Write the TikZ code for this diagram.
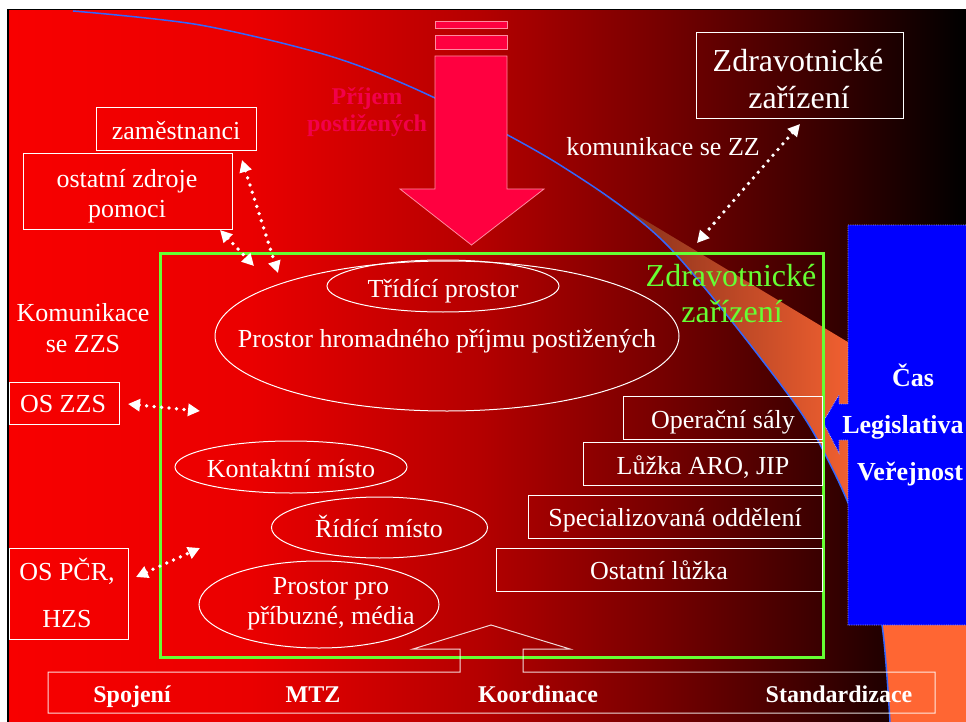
\documentclass[tikz,border=0pt]{standalone}
\usepackage{fontspec}
\setmainfont{Liberation Serif}
\usetikzlibrary{shapes.geometric,arrows.meta}
\definecolor{bgA}{HTML}{F80000}
\definecolor{bgB}{HTML}{EA0000}
\definecolor{bgC}{HTML}{B40000}
\definecolor{bgD}{HTML}{7A0000}
\definecolor{bgE}{HTML}{420000}
\definecolor{bgF}{HTML}{000000}
\definecolor{orgA}{HTML}{7A2A18}
\definecolor{orgB}{HTML}{FF6633}
\definecolor{curveblue}{HTML}{3366FF}
\definecolor{pinkA}{HTML}{FF0040}
\definecolor{pinkL}{HTML}{FF8AA0}
\definecolor{pinkT}{HTML}{F2004A}
\definecolor{zgreen}{HTML}{66FF33}
\definecolor{vblue}{HTML}{0000FF}
\pgfdeclarehorizontalshading{bgshade}{100bp}{color(0bp)=(bgA); color(25bp)=(bgA); color(37.6bp)=(bgB); color(49.6bp)=(bgC); color(58.5bp)=(bgD); color(66.3bp)=(bgE); color(75bp)=(bgF); color(100bp)=(bgF)}
\begin{document}
\begin{tikzpicture}[x=1pt,y=-1pt,
  every node/.style={inner sep=0pt, outer sep=0pt},
  wbox/.style={draw=white, line width=1pt, rectangle},
  well/.style={draw=white, line width=1pt, ellipse},
  tw/.style={text=white, font=\fontsize{26}{30}\selectfont, text height=23pt, text depth=6pt},
  tbig/.style={font=\fontsize{32}{36}\selectfont, text height=28pt, text depth=7pt},
  bb/.style={text=white, font=\bfseries\fontsize{24}{28}\selectfont, text height=21pt, text depth=5pt},
  bl/.style={text=white, font=\bfseries\fontsize{26}{30}\selectfont, text height=23pt, text depth=6pt},
  dotarrow/.style={white, line width=3.8pt, line cap=round, dash pattern=on 0pt off 7.5pt,
    {Triangle[length=12pt,width=12pt]}-{Triangle[length=12pt,width=12pt]}},
]
\useasboundingbox (0,0) rectangle (966,722);
\clip (0,0) rectangle (966,722);
% slide background
\fill[white] (0,0) rectangle (966,722);
\fill[black] (7,9) rectangle (966,722);
\shade[shading=bgshade] (9,11) rectangle (966,722);
% orange wedge
\begin{scope}
  \clip plot[smooth] coordinates {(593,189) (667,245) (790,397) (833,470) (862,540) (882,625) (890,722)}
    -- (966,722) -- (966,413) -- cycle;
  \shade[left color=orgA, right color=orgB] (593,180) rectangle (880,722);
  \fill[orgB] (880,180) rectangle (966,722);
\end{scope}
% blue curve
\draw[curveblue, line width=1.5pt] plot[smooth] coordinates {(73,11) (200,25) (333,57) (435,98) (560,165) (667,245) (790,397) (833,470) (862,540) (882,625) (890,722)};
% pink down arrow
\path[fill=pinkA, draw=pinkL, line width=0.8pt] (435,21) rectangle (507,28);
\path[fill=pinkA, draw=pinkL, line width=0.8pt] (435,35) rectangle (507,49);
\path[fill=pinkA, draw=pinkL, line width=0.8pt] (435,56) -- (507,56) -- (507,189) -- (544,189) -- (471.5,245) -- (400,189) -- (435,189) -- cycle;
\node[text=pinkT, font=\bfseries\fontsize{24}{28}\selectfont, text height=21pt, text depth=5pt] (prijA) at (367,97) {Příjem};
\node[text=pinkT, font=\bfseries\fontsize{24}{28}\selectfont, text height=21pt, text depth=5pt] (prijB) at (367,124) {postižených};
% blue box with arrow
\path[fill=vblue, draw=white!65!vblue, densely dotted, line width=0.8pt] (848,225) -- (972,225) -- (972,625) -- (848,625) -- (848,440) -- (839,440) -- (839,453) -- (823,422) -- (839,395) -- (839,404) -- (848,404) -- cycle;
\node[bl] (cas) at (913,378) {Čas};
\node[bl] (leg) at (903,425) {Legislativa};
\node[bl] (ver) at (910,472) {Veřejnost};
% green frame
\draw[zgreen, line width=3pt] (160,253) rectangle (823,657);
\node[tbig, text=zgreen] (zgA) at (731,276) {Zdravotnické};
\node[tbig, text=zgreen] (zgB) at (732,312) {zařízení};
% top right box
\node[wbox, minimum width=207pt, minimum height=86pt] (zzbox) at (799.5,76) {};
\node[tbig, text=white] (zzA) at (798,61) {Zdravotnické};
\node[tbig, text=white] (zzB) at (799,98) {zařízení};
\node[tw] (komzz) at (663,147) {komunikace se ZZ};
% left boxes
\node[wbox, minimum width=160pt, minimum height=43pt] (zam) at (176,129.5) {};
\node[tw] (zamT) at (176,131) {zaměstnanci};
\node[wbox, minimum width=209pt, minimum height=75pt] (ost) at (127.5,191.5) {};
\node[tw] (ostA) at (127,179) {ostatní zdroje};
\node[tw] (ostB) at (127,209) {pomoci};
\node[tw] (komA) at (83,313) {Komunikace};
\node[tw] (komB) at (83,344) {se ZZS};
\node[wbox, minimum width=110pt, minimum height=42pt] (oszzs) at (64,403) {};
\node[tw] (oszzsT) at (63,404) {OS ZZS};
\node[wbox, minimum width=119pt, minimum height=91pt] (ospcr) at (68.5,593.5) {};
\node[tw] (ospcrA) at (67,572) {OS PČR,};
\node[tw] (ospcrB) at (67,619) {HZS};
% ellipses
\node[well, minimum width=464pt, minimum height=150pt] (big) at (447,336) {};
\node[well, minimum width=232pt, minimum height=52pt] (tri) at (443,286) {};
\node[tw] (triT) at (443,289) {Třídící prostor};
\node[tw] (bigT) at (447,339) {Prostor hromadného příjmu postižených};
\node[well, minimum width=232pt, minimum height=52pt] (kon) at (291,467) {};
\node[tw] (konT) at (291,469) {Kontaktní místo};
\node[well, minimum width=216pt, minimum height=61pt] (rid) at (379.5,527.5) {};
\node[tw] (ridT) at (379,529) {Řídící místo};
\node[well, minimum width=240pt, minimum height=87pt] (pro) at (319,604.5) {};
\node[tw] (proA) at (331,586) {Prostor pro};
\node[tw] (proB) at (331,616) {příbuzné, média};
% right boxes
\node[wbox, minimum width=199pt, minimum height=43pt] (op) at (722.5,417.5) {};
\node[tw] (opT) at (723,420) {Operační sály};
\node[wbox, minimum width=239pt, minimum height=43pt] (luz) at (702.5,463.5) {};
\node[tw] (luzT) at (703,466) {Lůžka ARO, JIP};
\node[wbox, minimum width=294pt, minimum height=43pt] (spec) at (675,516.5) {};
\node[tw] (specT) at (675,518) {Specializovaná oddělení};
\node[wbox, minimum width=326pt, minimum height=43pt] (ol) at (659,569.5) {};
\node[tw] (olT) at (659,571) {Ostatní lůžka};
% bottom bar with up arrow
\draw[white, draw opacity=0.85, line width=1pt] (48,672) -- (460,672) -- (460,649) -- (413,649) -- (491,625) -- (570,649) -- (523,649) -- (523,672) -- (935,672) -- (935,713) -- (48,713) -- cycle;
\node[bb] (spo) at (132,694) {Spojení};
\node[bb] (mtz) at (313,694) {MTZ};
\node[bb] (koo) at (538,694) {Koordinace};
\node[bb] (sta) at (839,694) {Standardizace};
% dotted connectors
\coordinate (a1) at (800,124); \coordinate (a2) at (697,243);
\coordinate (b1) at (242,160); \coordinate (b2) at (278,273);
\coordinate (c1) at (220,230); \coordinate (c2) at (254,266);
\coordinate (d1) at (128,404); \coordinate (d2) at (200,411);
\coordinate (e1) at (136,577); \coordinate (e2) at (200,548);
\draw[dotarrow] (a1) -- (a2);
\draw[dotarrow] (b1) -- (b2);
\draw[dotarrow] (c1) -- (c2);
\draw[dotarrow] (d1) -- (d2);
\draw[dotarrow] (e1) -- (e2);
\end{tikzpicture}
\end{document}
